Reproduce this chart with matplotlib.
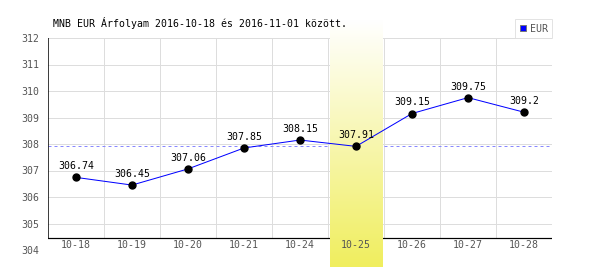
import numpy as np
import matplotlib.pyplot as plt
from matplotlib.colors import LinearSegmentedColormap
from matplotlib.lines import Line2D
import matplotlib.transforms as mtransforms

dates = ["10-18", "10-19", "10-20", "10-21", "10-24", "10-25", "10-26", "10-27", "10-28"]
rates = [306.74, 306.45, 307.06, 307.85, 308.15, 307.91, 309.15, 309.75, 309.2]
highlight = "10-25"
ref_rate = 307.91
yticks = [304, 305, 306, 307, 308, 309, 310, 311, 312]
title = "MNB EUR Árfolyam 2016-10-18 és 2016-11-01 között."

plt.rcParams['font.family'] = ['DejaVu Sans Mono']
fs = 7.1
grid_c = '#dddddd'
px = 0.72  # one pixel in points

fig = plt.figure(figsize=(6, 2.7), dpi=100)
ax = fig.add_axes([48/600, 20/270, 504/600, 212/270])
x = np.arange(len(dates))

# highlighted day, gradient from white (top) to yellow (bottom), covers the grid
hi = dates.index(highlight)
cmap = LinearSegmentedColormap.from_list('hl', ['#ffffff', '#f0ee5e'])
grad = np.linspace(0, 1, 256).reshape(-1, 1)
ax.imshow(grad, cmap=cmap, origin='upper', aspect='auto',
          extent=[hi - 0.47, hi + 0.47, 303.36, 312.68], clip_on=False, zorder=2.5)

# grid
axis_frac = 12/212
for v in yticks:
    ax.axhline(v, color=grid_c, lw=px, zorder=1)
for k in range(1, len(dates)):
    ax.axvline(k - 0.5, ymin=axis_frac, ymax=1, color=grid_c, lw=px, zorder=1)
ax.axvline(len(dates) - 0.5, ymin=0, ymax=1, color=grid_c, lw=px, zorder=1)

# reference line
ax.axhline(ref_rate, color='#8888ff', lw=px, ls=(0, (3, 3)), zorder=2)

# axis lines
ax.axhline(304 + 12/26.5, color='black', lw=1.2*px, zorder=2)
ax.axvline(-0.5, ymin=axis_frac, ymax=1, color='black', lw=1.5*px, zorder=3)

# series
ax.plot(x, rates, color='blue', lw=px, zorder=3)
ax.plot(x, rates, 'o', color='black', ms=5, zorder=4)
for xi, v in zip(x, rates):
    ax.annotate(f"{v:g}", (xi, v), xytext=(0, 8), textcoords='offset points',
                ha='center', va='center', fontsize=fs, color='black', zorder=5)

# x labels between axis line and bottom grid line
trans = mtransforms.blended_transform_factory(ax.transData, ax.transAxes)
for xi, d in zip(x, dates):
    ax.text(xi, 5/212, d, transform=trans, ha='center', va='center',
            fontsize=fs, color='#555555', zorder=5)

ax.set_xlim(-0.5, len(dates) - 0.5)
ax.set_ylim(304, 312)
ax.set_xticks([])
ax.set_yticks(yticks)
ax.tick_params(axis='y', length=0, pad=6, labelsize=fs, labelcolor='#555555')
for s in ax.spines.values():
    s.set_visible(False)
ax.patch.set_alpha(0)

leg = ax.legend([Line2D([], [], ls='none', marker='s', ms=4.5, mfc='blue', mec='#777777', mew=0.7)],
                ['EUR'], loc='lower right', bbox_to_anchor=(1.0, 1.0), borderaxespad=0,
                fontsize=fs, fancybox=False, handlelength=0.7, handletextpad=0.3,
                borderpad=0.45, labelcolor='#555555')
leg.get_frame().set_edgecolor(grid_c)
leg.get_frame().set_linewidth(px)

fig.text(53/600, 1 - 23/270, title, ha='left', va='center', fontsize=fs, color='black')

fig.savefig('out.png', dpi=100)
